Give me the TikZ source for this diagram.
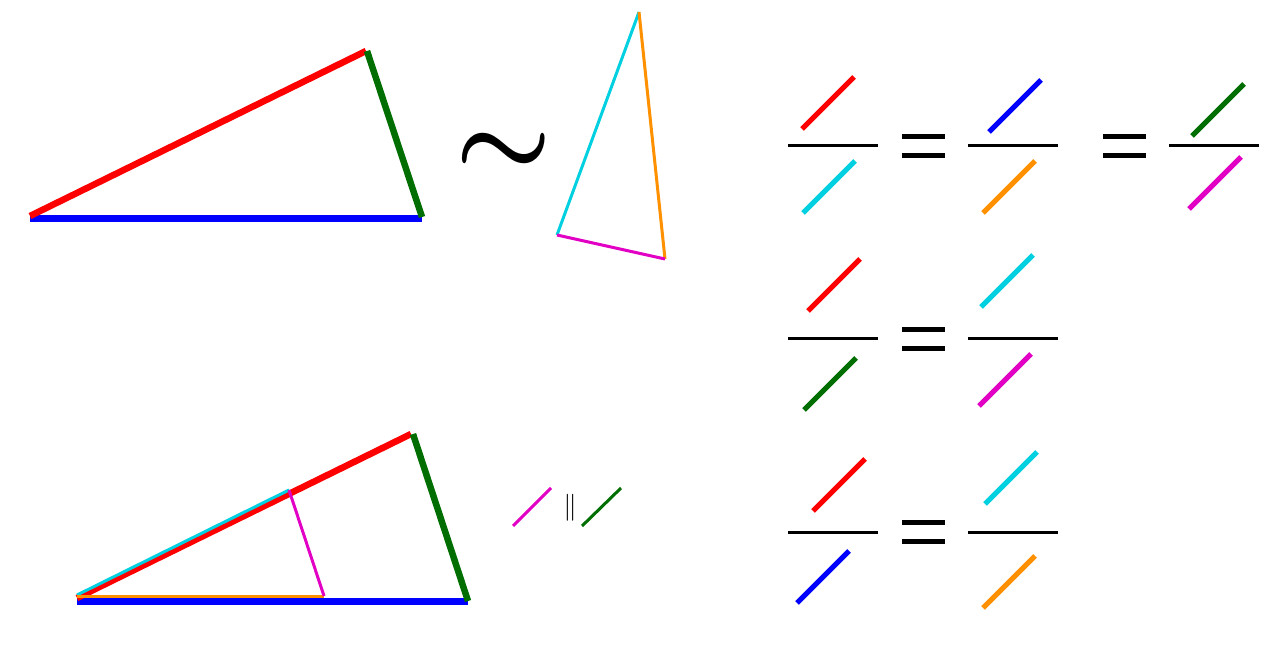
\documentclass[tikz,border=0pt]{standalone}
\usepackage{amsmath}
\usetikzlibrary{calc}
\definecolor{sidered}{RGB}{255,0,0}
\definecolor{sidegreen}{RGB}{0,110,0}
\definecolor{sideblue}{RGB}{0,0,255}
\definecolor{sidecyan}{RGB}{0,208,224}
\definecolor{sideorange}{RGB}{255,145,0}
\definecolor{sidemagenta}{RGB}{225,0,195}
\tikzset{
  bigside/.style={line width=6.5pt},
  smallside/.style={line width=3pt},
  piece/.style={line width=5pt},
  fracbar/.style={line width=3pt},
}
% one coloured piece of a ratio, drawn up and to the right from #2
\newcommand*{\piece}[2]{\draw[piece,#1] (#2) -- ++(52,-52);}
% an equals sign centred on #1
\newcommand*{\equals}[1]{%
  \draw[line width=5pt] ($(#1)+(-21.5,-9.5)$) -- ++(43,0)
                        ($(#1)+(-21.5,9.5)$)  -- ++(43,0);}

\begin{document}
\begin{tikzpicture}[x=1pt,y=-1pt]
\useasboundingbox (0,0) rectangle (1280,661);

% Draw large triangle
\coordinate (A) at (30,217);
\coordinate (B) at (366,51);
\coordinate (C) at (422,217);
\draw[bigside,line width=7pt,sideblue] ($(A)+(0,1.5)$) -- ($(C)+(0,1.5)$);
\draw[bigside,sidered]   ($(A)+(0,-1)$) -- (B);
\draw[bigside,sidegreen] ($(B)+(1,0)$) -- (C);

% Similarity sign
\node[scale=10.8,inner sep=0pt,anchor=base] (sim) at (503.5,175) {$\boldsymbol{\sim}$};

% Draw small triangle
\coordinate (P) at (557,235);
\coordinate (Q) at (639,12);
\coordinate (R) at (665,259);
\draw[smallside,sidecyan]    (P) -- (Q);
\draw[smallside,sideorange]  (Q) -- (R);
\draw[smallside,sidemagenta] (P) -- (R);

% Draw large triangle with small one inside
\coordinate (D) at (77,598);
\coordinate (E) at (411,434);
\coordinate (F) at (468,601);
\coordinate (G) at (289,490);
\coordinate (H) at (324,596);
\draw[bigside,line width=7pt,sideblue] ($(D)+(0,3)$) -- (F);
\draw[bigside,sidered]   (D) -- (E);
\draw[bigside,sidegreen] ($(E)+(2,0)$) -- (F);
\draw[smallside,sidecyan]    ($(D)+(0,-3)$) -- (G);
\draw[smallside,sideorange]  ($(D)+(0,-2)$) -- (H);
\draw[smallside,sidemagenta] (G) -- (H);

% Parallel sides
\draw[smallside,sidemagenta] (513,526) -- (551,488);
\node[scale=2.7,anchor=base] (par) at (570,514) {$\parallel$};
\draw[smallside,sidegreen]   (582,526) -- (621,488);

% First row of ratios
\foreach \x in {788,968,1169}
  \draw[fracbar] (\x,145) -- ++(90,0);
\piece{sidered}{802,129}
\piece{sidecyan}{803,213}
\equals{923.5,145.5}
\piece{sideblue}{989,132}
\piece{sideorange}{983,213}
\equals{1124.5,145.5}
\piece{sidegreen}{1192,136}
\piece{sidemagenta}{1189,209}

% Second row of ratios
\foreach \x in {788,968}
  \draw[fracbar] (\x,338) -- ++(90,0);
\piece{sidered}{808,311}
\piece{sidegreen}{804,410}
\equals{923.5,338.5}
\piece{sidecyan}{981,307}
\piece{sidemagenta}{979,406}

% Third row of ratios
\foreach \x in {788,968}
  \draw[fracbar] (\x,532) -- ++(90,0);
\piece{sidered}{813,511}
\piece{sideblue}{797,603}
\equals{923.5,531.5}
\piece{sidecyan}{985,504}
\piece{sideorange}{983,608}
\end{tikzpicture}
\end{document}
